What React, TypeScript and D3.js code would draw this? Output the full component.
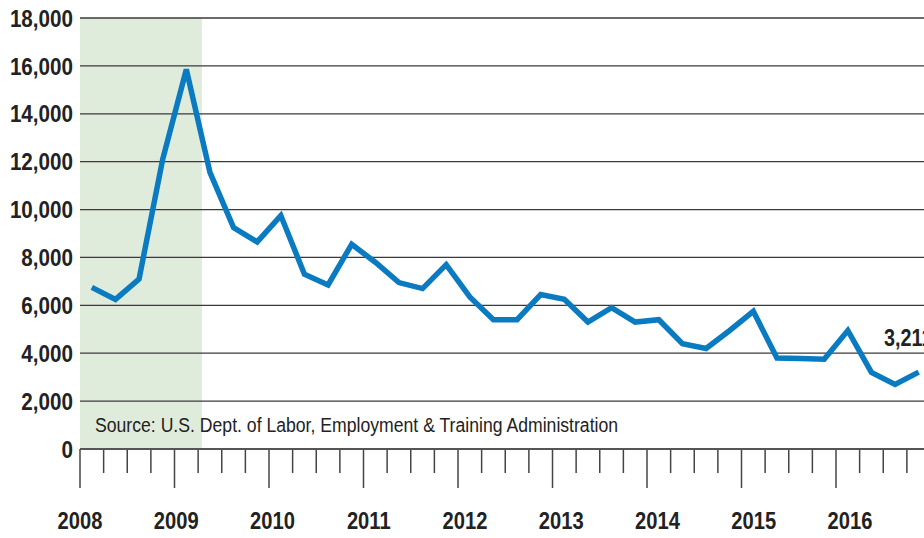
import * as d3 from "d3";
import React, { useEffect, useRef } from "react";

// Quarterly values, 2008 Q1 .. 2016 Q4
const years = [2008, 2009, 2010, 2011, 2012, 2013, 2014, 2015, 2016];
const values = [
  6750, 6250, 7100, 12100,
  15850, 11550, 9250, 8650,
  9750, 7300, 6850, 8550,
  7800, 6950, 6700, 7700,
  6350, 5400, 5400, 6450,
  6250, 5300, 5900, 5300,
  5400, 4400, 4200, 4950,
  5750, 3800, 3775, 3750,
  4950, 3200, 2700, 3211,
];
const yTicks = [0, 2000, 4000, 6000, 8000, 10000, 12000, 14000, 16000, 18000];
const recession = [2008, 2009.29];
const lastLabel = "3,211";
const sourceText = "Source: U.S. Dept. of Labor, Employment & Training Administration";

// no condensed face installed, so squeeze Liberation Sans horizontally
const FONT = "'Liberation Sans', Arial, sans-serif";

export default function App() {
  const svgRef = useRef<SVGSVGElement>(null);

  useEffect(() => {
    const svg = d3.select(svgRef.current);
    svg.selectAll("*").remove();

    const width = 924;
    const height = 538;
    const left = 80;
    const top = 18;
    const bottom = 449;

    const x = d3.scaleLinear().domain([2008, 2017]).range([left, left + 9 * 94.5]);
    // year labels drift a little to the right in the original artwork
    const xLabel = d3.scaleLinear().domain([2008, 2016]).range([left, 850]);
    const y = d3.scaleLinear().domain([0, 18000]).range([bottom, top]);

    const squeezed = (sel, tx, ty, k) =>
      sel.attr("transform", (d, i) => `translate(${tx(d, i)},${ty(d, i)}) scale(${k},1)`);

    svg.append("rect").attr("width", width).attr("height", height).attr("fill", "#fff");

    // Recession band
    svg.append("rect")
      .attr("x", x(recession[0]))
      .attr("y", y(18000))
      .attr("width", x(recession[1]) - x(recession[0]))
      .attr("height", y(0) - y(18000))
      .attr("fill", "#e0ecdb");

    // Grid lines
    svg.append("g")
      .selectAll("line")
      .data(yTicks.filter(d => d > 0))
      .join("line")
      .attr("x1", left)
      .attr("x2", width)
      .attr("y1", d => y(d))
      .attr("y2", d => y(d))
      .attr("stroke", "#3a3a3a")
      .attr("stroke-width", 1.3);

    // Y labels
    svg.append("g")
      .selectAll("text")
      .data(yTicks)
      .join("text")
      .call(squeezed, () => 73, d => y(d), 0.86)
      .attr("dy", "0.36em")
      .attr("text-anchor", "end")
      .style("font-family", FONT)
      .style("font-size", "24px")
      .style("font-weight", "bold")
      .attr("fill", "#222")
      .text(d => d3.format(",")(d));

    // Source
    svg.append("text")
      .datum(sourceText)
      .call(squeezed, () => 95, () => 432, 0.84)
      .style("font-family", FONT)
      .style("font-size", "21px")
      .attr("fill", "#222")
      .text(d => d);

    // Quarter ticks
    const quarterTicks = d3.range(2008, 2017.01, 0.25);
    svg.append("g")
      .selectAll("line")
      .data(quarterTicks)
      .join("line")
      .attr("x1", d => x(d))
      .attr("x2", d => x(d))
      .attr("y1", bottom)
      .attr("y2", d => (Math.abs(d - Math.round(d)) < 0.01 ? 488 : 473))
      .attr("stroke", "#444")
      .attr("stroke-width", 1.5);

    // Zero axis
    svg.append("line")
      .attr("x1", left)
      .attr("x2", width)
      .attr("y1", bottom)
      .attr("y2", bottom)
      .attr("stroke", "#555")
      .attr("stroke-width", 2);

    // Year labels
    svg.append("g")
      .selectAll("text")
      .data(years)
      .join("text")
      .call(squeezed, d => xLabel(d), () => 529, 0.84)
      .attr("text-anchor", "middle")
      .style("font-family", FONT)
      .style("font-size", "24px")
      .style("font-weight", "bold")
      .attr("fill", "#222")
      .text(d => d);

    // Line
    const line = d3.line<number>()
      .x((d, i) => x(2008 + (i + 0.5) / 4))
      .y(d => y(d));

    svg.append("path")
      .datum(values)
      .attr("fill", "none")
      .attr("stroke", "#0a7bc1")
      .attr("stroke-width", 5.5)
      .attr("stroke-linejoin", "miter")
      .attr("d", line);

    // End label (runs off the right edge, as in the original)
    svg.append("text")
      .datum(lastLabel)
      .call(squeezed, () => 884, () => 346, 0.86)
      .style("font-family", FONT)
      .style("font-size", "23px")
      .style("font-weight", "bold")
      .attr("fill", "#222")
      .text(d => d);
  }, []);

  return (
    <svg
      ref={svgRef}
      width={924}
      height={538}
      style={{ position: "absolute", left: 0, top: 0, display: "block" }}
    ></svg>
  );
}
